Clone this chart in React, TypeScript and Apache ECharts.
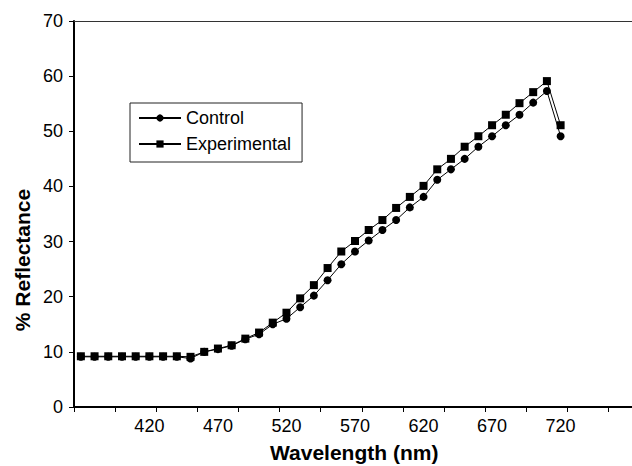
import React, { useEffect, useRef } from "react";
import * as echarts from "echarts";

const wavelengths = [
  "370", "380", "390", "400", "410", "420", "430", "440", "450", "460",
  "470", "480", "490", "500", "510", "520", "530", "540", "550", "560",
  "570", "580", "590", "600", "610", "620", "630", "640", "650", "660",
  "670", "680", "690", "700", "710", "720", "730", "740", "750", "760", "770",
];

const control = [
  9.1, 9.1, 9.1, 9.1, 9.1, 9.1, 9.1, 9.1, 8.8, 10.0,
  10.5, 11.1, 12.3, 13.2, 15.0, 16.0, 18.1, 20.2, 23.0, 25.9,
  28.2, 30.2, 32.1, 33.9, 36.2, 38.1, 41.2, 43.1, 45.0, 47.2,
  49.1, 51.1, 53.0, 55.2, 57.3, 49.1,
];

const experimental = [
  9.2, 9.2, 9.2, 9.2, 9.2, 9.2, 9.2, 9.2, 9.1, 10.0,
  10.6, 11.2, 12.4, 13.5, 15.3, 17.1, 19.7, 22.1, 25.2, 28.2,
  30.1, 32.1, 33.9, 36.1, 38.1, 40.1, 43.1, 45.0, 47.2, 49.1,
  51.1, 53.0, 55.1, 57.1, 59.1, 51.1,
];

const shownLabels = ["420", "470", "520", "570", "620", "670", "720"];

const FONT = "'Liberation Sans', Arial, sans-serif";

export default function App() {
  const ref = useRef<HTMLDivElement>(null);
  useEffect(() => {
    if (!ref.current) return;
    document.body.style.margin = "0";
    document.body.style.overflow = "hidden";
    const chart = echarts.init(ref.current, undefined, { renderer: "svg" });
    chart.setOption({
      animation: false,
      backgroundColor: "#fff",
      textStyle: { fontFamily: FONT },
      grid: {
        left: 74,
        top: 21,
        right: 4,
        bottom: 59,
        show: false,
      },
      legend: {
        orient: "vertical",
        left: 130,
        top: 103,
        padding: [6, 11, 9, 8],
        itemGap: 8,
        itemWidth: 42,
        itemHeight: 9,
        borderColor: "#222",
        borderWidth: 1,
        backgroundColor: "#fff",
        textStyle: { fontSize: 18, fontFamily: FONT, color: "#000", lineHeight: 18 },
        data: ["Control", "Experimental"],
      },
      xAxis: [
        {
          type: "category",
          data: wavelengths,
          boundaryGap: true,
          axisLine: { lineStyle: { color: "#000", width: 2 } },
          axisTick: { show: true, interval: 2, length: 5, lineStyle: { color: "#000", width: 1 } },
          axisLabel: {
            interval: (_i: number, v: string) => shownLabels.includes(v),
            fontSize: 18,
            color: "#000",
            fontFamily: FONT,
            margin: 10,
          },
          splitLine: { show: false },
        },
        {
          type: "category",
          data: wavelengths,
          position: "top",
          axisLine: { show: true, lineStyle: { color: "#333", width: 1 } },
          axisTick: { show: false },
          axisLabel: { show: false },
          splitLine: { show: false },
        },
      ],
      yAxis: {
        type: "value",
        min: 0,
        max: 70,
        interval: 10,
        axisLine: { show: true, lineStyle: { color: "#000", width: 2 } },
        axisTick: { show: true, length: 5, lineStyle: { color: "#000", width: 1 } },
        axisLabel: { fontSize: 18, color: "#000", fontFamily: FONT, margin: 11 },
        splitLine: { show: false },
      },
      graphic: [
        {
          type: "text",
          left: 355 - 85,
          top: 442,
          style: {
            text: "Wavelength (nm)",
            font: `bold 21px ${FONT}`,
            fill: "#000",
          },
        },
        {
          type: "text",
          x: 22,
          y: 260,
          rotation: Math.PI / 2,
          style: {
            text: "% Reflectance",
            font: `bold 21px ${FONT}`,
            fill: "#000",
            align: "center",
            verticalAlign: "middle",
          },
        },
      ],
      series: [
        {
          name: "Control",
          type: "line",
          data: control,
          symbol: "circle",
          symbolSize: 8,
          showAllSymbol: true,
          itemStyle: { color: "#000" },
          lineStyle: { color: "#000", width: 1 },
        },
        {
          name: "Experimental",
          type: "line",
          data: experimental,
          symbol: "rect",
          symbolSize: 8,
          showAllSymbol: true,
          itemStyle: { color: "#000" },
          lineStyle: { color: "#000", width: 1 },
        },
      ],
    });
    return () => chart.dispose();
  }, []);
  return (
    <div
      style={{
        position: "absolute",
        left: 0,
        top: 0,
        width: 632,
        height: 466,
        overflow: "hidden",
        background: "#fff",
      }}
    >
      <div ref={ref} style={{ width: 640, height: 466 }} />
    </div>
  );
}
